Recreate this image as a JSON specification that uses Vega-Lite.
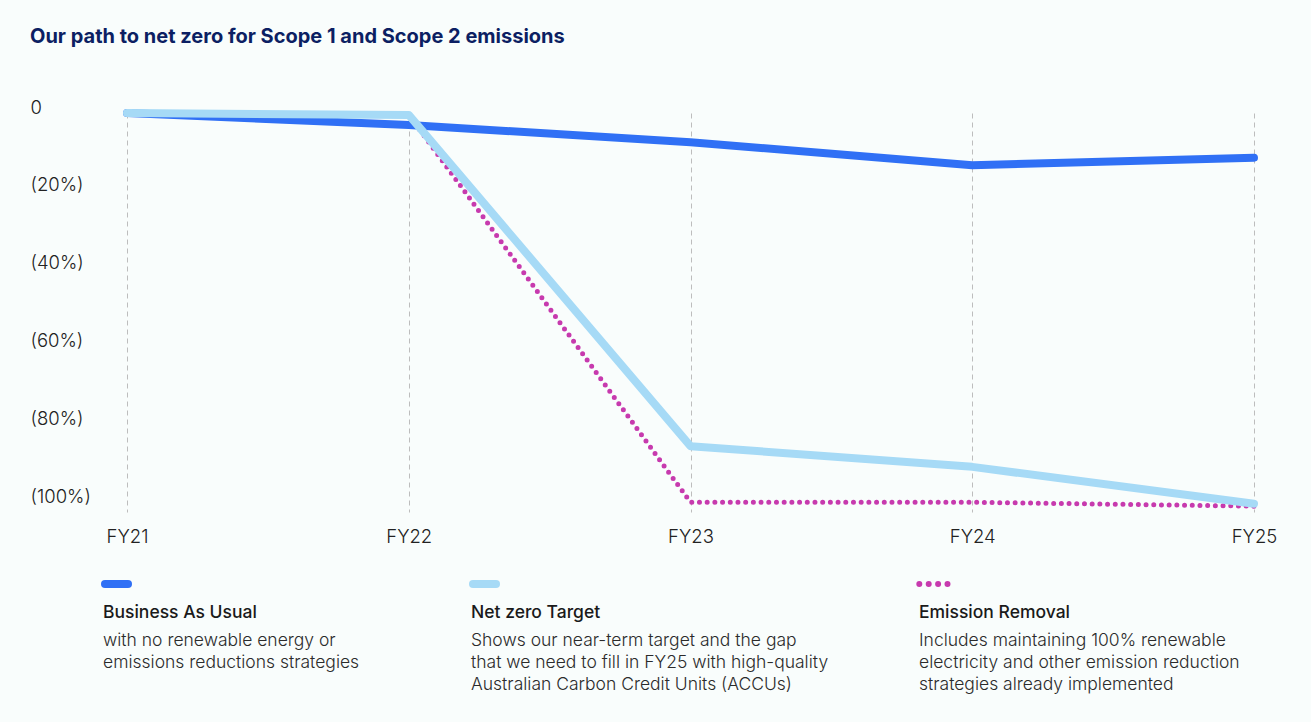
{
  "$schema": "https://vega.github.io/schema/vega-lite/v6.json",
  "background": "#f9fdfc",
  "padding": {"left": 30, "top": 27, "right": 34, "bottom": 20},
  "bounds": "flush",
  "spacing": 60,
  "title": {
    "text": "Our path to net zero for Scope 1 and Scope 2 emissions",
    "anchor": "start",
    "fontSize": 20,
    "fontWeight": "bold",
    "color": "#0c1f63",
    "font": "Inter",
    "offset": 51
  },
  "config": {"font": "Inter", "view": {"stroke": null}},
  "datasets": {
    "series": [
      {"year": "FY21", "series": "Business As Usual", "value": 0},
      {"year": "FY22", "series": "Business As Usual", "value": -3.1},
      {"year": "FY23", "series": "Business As Usual", "value": -7.5},
      {"year": "FY24", "series": "Business As Usual", "value": -13.4},
      {"year": "FY25", "series": "Business As Usual", "value": -11.5},
      {"year": "FY21", "series": "Net zero Target", "value": 0},
      {"year": "FY22", "series": "Net zero Target", "value": -0.5},
      {"year": "FY23", "series": "Net zero Target", "value": -85.6},
      {"year": "FY24", "series": "Net zero Target", "value": -90.9},
      {"year": "FY25", "series": "Net zero Target", "value": -100.4},
      {"year": "FY21", "series": "Emission Removal", "value": 0},
      {"year": "FY22", "series": "Emission Removal", "value": -0.4},
      {"year": "FY23", "series": "Emission Removal", "value": -100},
      {"year": "FY24", "series": "Emission Removal", "value": -100},
      {"year": "FY25", "series": "Emission Removal", "value": -101}
    ],
    "legend": [
      {"series": "Business As Usual", "order": 1, "desc": "with no renewable energy or\nemissions reductions strategies"},
      {"series": "Net zero Target", "order": 2, "desc": "Shows our near-term target and the gap\nthat we need to fill in FY25 with high-quality\nAustralian Carbon Credit Units (ACCUs)"},
      {"series": "Emission Removal", "order": 3, "desc": "Includes maintaining 100% renewable\nelectricity and other emission reduction\nstrategies already implemented"}
    ]
  },
  "vconcat": [
    {
      "width": 1127,
      "height": 399,
      "data": {"name": "series"},
      "encoding": {
        "x": {
          "field": "year",
          "type": "ordinal",
          "scale": {"type": "point", "padding": 0},
          "axis": {
            "title": null,
            "domain": false,
            "ticks": false,
            "tickSize": 0,
            "labelPadding": 15,
            "labelFontSize": 18.5,
            "labelFontWeight": 300,
            "labelColor": "#222222",
            "labelAngle": 0,
            "grid": true,
            "gridColor": "#bdbdbd",
            "gridDash": [5, 4],
            "gridWidth": 1
          }
        },
        "y": {
          "field": "value",
          "type": "quantitative",
          "scale": {"domain": [-102.5, 0], "nice": false, "zero": false},
          "axis": {
            "title": null,
            "domain": false,
            "ticks": false,
            "tickSize": 0,
            "grid": false,
            "values": [0, -20, -40, -60, -80, -100],
            "labelExpr": "datum.value == 0 ? '0' : '(' + abs(datum.value) + '%)'",
            "labelAlign": "left",
            "labelBaseline": "middle",
            "labelPadding": 97,
            "labelOffset": -6,
            "labelFontSize": 18.5,
            "labelFontWeight": 300,
            "labelColor": "#222222"
          }
        }
      },
      "layer": [
        {
          "transform": [{"filter": "datum.series == 'Business As Usual'"}],
          "mark": {"type": "line", "stroke": "#3070f5", "strokeWidth": 8, "strokeCap": "round", "strokeJoin": "round"}
        },
        {
          "transform": [{"filter": "datum.series == 'Emission Removal'"}],
          "mark": {"type": "line", "stroke": "#c73aae", "strokeWidth": 5, "strokeCap": "round", "strokeDash": [0, 7.7]}
        },
        {
          "transform": [{"filter": "datum.series == 'Net zero Target'"}],
          "mark": {"type": "line", "stroke": "#a6daf6", "strokeWidth": 8, "strokeCap": "round", "strokeJoin": "round"}
        }
      ]
    },
    {
      "width": 1127,
      "height": 130,
      "data": {"name": "legend"},
      "encoding": {
        "x": {
          "field": "order",
          "type": "quantitative",
          "scale": {"domain": [1, 2, 3], "range": [-24, 344, 792]},
          "axis": null
        }
      },
      "layer": [
        {
          "transform": [{"filter": "datum.order < 3"}],
          "mark": {"type": "rule", "strokeWidth": 8, "strokeCap": "round", "xOffset": 2, "x2Offset": 25},
          "encoding": {
            "x2": {"field": "order"},
            "y": {"value": 12},
            "color": {
              "field": "series",
              "type": "nominal",
              "scale": {"domain": ["Business As Usual", "Net zero Target", "Emission Removal"], "range": ["#3070f5", "#a6daf6", "#c73aae"]},
              "legend": null
            }
          }
        },
        {
          "transform": [{"filter": "datum.order == 3"}],
          "mark": {"type": "rule", "strokeWidth": 6, "strokeCap": "round", "strokeDash": [0, 9.4], "xOffset": 0.3, "x2Offset": 28.7},
          "encoding": {
            "x2": {"field": "order"},
            "y": {"value": 12},
            "color": {
              "field": "series",
              "type": "nominal",
              "scale": {"domain": ["Business As Usual", "Net zero Target", "Emission Removal"], "range": ["#3070f5", "#a6daf6", "#c73aae"]},
              "legend": null
            }
          }
        },
        {
          "mark": {"type": "text", "align": "left", "baseline": "alphabetic", "fontSize": 17.5, "fontWeight": 500, "color": "#1a1a1a"},
          "encoding": {"text": {"field": "series"}, "y": {"value": 46}}
        },
        {
          "mark": {"type": "text", "align": "left", "baseline": "alphabetic", "fontSize": 17.5, "fontWeight": 300, "lineBreak": "\n", "lineHeight": 22, "color": "#2b2b2b"},
          "encoding": {"text": {"field": "desc"}, "y": {"value": 74}}
        }
      ]
    }
  ]
}
